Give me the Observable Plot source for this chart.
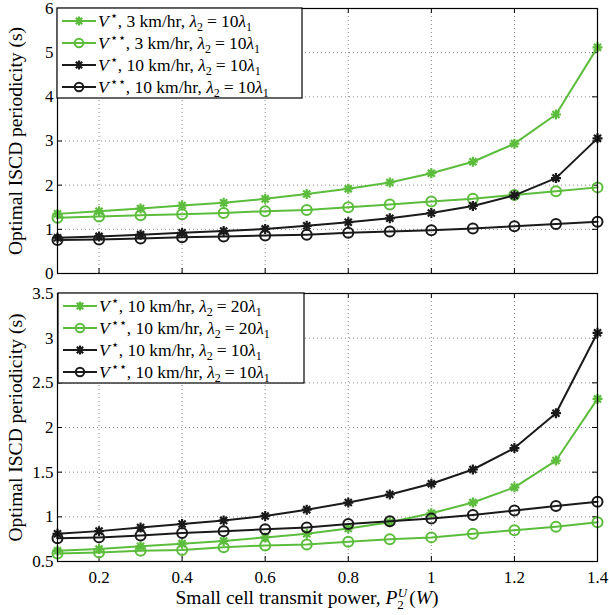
<!DOCTYPE html>
<html>
<head>
<meta charset="utf-8">
<script src="https://cdn.jsdelivr.net/npm/d3@7"></script>
<script src="https://cdn.jsdelivr.net/npm/@observablehq/plot@0.6"></script>
<style>
  html, body { margin: 0; padding: 0; background: #fff; }
  svg { display: block; }
</style>
</head>
<body>
<div id="chart"></div>
<script>
// ---- data ----
const power = [0.1, 0.2, 0.3, 0.4, 0.5, 0.6, 0.7, 0.8, 0.9, 1.0, 1.1, 1.2, 1.3, 1.4];
const vStar3_10 = [1.35, 1.41, 1.47, 1.54, 1.60, 1.69, 1.80, 1.92, 2.06, 2.27, 2.53, 2.94, 3.60, 5.12];
const vStarStar3_10 = [1.26, 1.29, 1.32, 1.34, 1.37, 1.41, 1.44, 1.50, 1.56, 1.63, 1.69, 1.78, 1.86, 1.95];
const vStar10_10 = [0.81, 0.84, 0.88, 0.92, 0.96, 1.01, 1.08, 1.16, 1.25, 1.37, 1.53, 1.77, 2.16, 3.06];
const vStarStar10_10 = [0.76, 0.77, 0.79, 0.82, 0.84, 0.86, 0.88, 0.92, 0.95, 0.98, 1.02, 1.07, 1.12, 1.17];
const vStar10_20 = [0.62, 0.64, 0.67, 0.70, 0.73, 0.77, 0.81, 0.87, 0.94, 1.04, 1.16, 1.33, 1.63, 2.32];
const vStarStar10_20 = [0.59, 0.60, 0.62, 0.63, 0.66, 0.68, 0.69, 0.72, 0.75, 0.77, 0.81, 0.85, 0.89, 0.94];

const xTicks = [0.2, 0.4, 0.6, 0.8, 1, 1.2, 1.4];
const yTicksTop = [0, 1, 2, 3, 4, 5, 6];
const yTicksBottom = [0.5, 1, 1.5, 2, 2.5, 3, 3.5];
const yLabel = "Optimal ISCD periodicity (s)";

const topLegend = [
  {sup: "\u22C6", speed: "3", lam: "10", color: "green", sym: "asterisk"},
  {sup: "\u22C6\u22C6", speed: "3", lam: "10", color: "green", sym: "circle"},
  {sup: "\u22C6", speed: "10", lam: "10", color: "black", sym: "asterisk"},
  {sup: "\u22C6\u22C6", speed: "10", lam: "10", color: "black", sym: "circle"}
];
const bottomLegend = [
  {sup: "\u22C6", speed: "10", lam: "20", color: "green", sym: "asterisk"},
  {sup: "\u22C6\u22C6", speed: "10", lam: "20", color: "green", sym: "circle"},
  {sup: "\u22C6", speed: "10", lam: "10", color: "black", sym: "asterisk"},
  {sup: "\u22C6\u22C6", speed: "10", lam: "10", color: "black", sym: "circle"}
];

const COLORS = {green: "#5cbd3d", black: "#1a1a1a"};
const FONT = "'Liberation Serif', 'Times New Roman', 'DejaVu Serif', serif";
const W = 609;

// MATLAB-style 8-armed asterisk marker
const star8 = {
  draw(ctx, size) {
    const r = Math.sqrt(size / Math.PI);
    const d = r * Math.SQRT1_2;
    ctx.moveTo(-r, 0); ctx.lineTo(r, 0);
    ctx.moveTo(0, -r); ctx.lineTo(0, r);
    ctx.moveTo(-d, -d); ctx.lineTo(d, d);
    ctx.moveTo(-d, d); ctx.lineTo(d, -d);
  }
};

function toRows(vals) { return power.map((p, i) => ({x: p, y: vals[i]})); }

function seriesMarks(vals, color, sym) {
  const rows = toRows(vals);
  const c = COLORS[color];
  return [
    Plot.line(rows, {x: "x", y: "y", stroke: c, strokeWidth: 2}),
    Plot.dot(rows, {x: "x", y: "y", stroke: c, fill: "none", symbol: sym === "circle" ? "circle" : star8, r: 5, strokeWidth: sym === "circle" ? 2 : 2.2})
  ];
}

function panel({height, marginTop, marginBottom, yDomain, yTicks, series, showX}) {
  const innerW = W - 57 - 12;
  const innerH = height - marginTop - marginBottom;
  const marks = [
    Plot.gridX(xTicks.slice(0, -1), {stroke: "#888", strokeOpacity: 1, strokeDasharray: "1,3"}),
    Plot.gridY(yTicks.slice(1, -1), {stroke: "#888", strokeOpacity: 1, strokeDasharray: "1,3"}),
    Plot.tickY(yTicks, {y: d => d, stroke: "#000", insetRight: innerW - 5}),
    Plot.tickY(yTicks, {y: d => d, stroke: "#000", insetLeft: innerW - 5}),
    Plot.tickX(xTicks, {x: d => d, stroke: "#000", insetTop: innerH - 5}),
    Plot.tickX(xTicks, {x: d => d, stroke: "#000", insetBottom: innerH - 5}),
    Plot.axisY(yTicks, {tickSize: 0, tickPadding: 4, fontSize: 17, label: null, tickFormat: d => String(d)}),
    showX
      ? Plot.axisX(xTicks, {tickSize: 0, tickPadding: 9, fontSize: 17, label: null, tickFormat: d => String(d)})
      : Plot.axisX(xTicks, {tickSize: 0, tickFormat: () => "", label: null}),
    ...series.flatMap(s => seriesMarks(s.vals, s.color, s.sym)),
    Plot.frame({stroke: "#000", strokeWidth: 1.2}),
    Plot.text([yLabel], {text: d => d, frameAnchor: "left", textAnchor: "middle", dx: -42, rotate: -90, fontSize: 19.5, fill: "#000"})
  ];
  return Plot.plot({
    width: W,
    height,
    marginTop,
    marginBottom,
    marginLeft: 57,
    marginRight: 12,
    style: {fontFamily: FONT, color: "#000", background: "#fff", overflow: "visible"},
    x: {domain: [0.1, 1.4]},
    y: {domain: yDomain},
    marks
  });
}

function drawLegend(svg, entries, x0, y0, w, h) {
  const g = d3.select(svg).append("g").attr("font-family", FONT).attr("font-size", 17.5).attr("text-anchor", "start");
  g.append("rect").attr("x", x0).attr("y", y0).attr("width", w).attr("height", h)
    .attr("fill", "#fff").attr("stroke", "#000").attr("stroke-width", 1.2);
  entries.forEach((e, i) => {
    const cy = y0 + 13 + i * 22;
    const c = COLORS[e.color];
    g.append("line").attr("x1", x0 + 5).attr("x2", x0 + 39).attr("y1", cy).attr("y2", cy)
      .attr("stroke", c).attr("stroke-width", 2);
    const path = d3.path();
    if (e.sym === "circle") path.arc(0, 0, 4.2, 0, 2 * Math.PI);
    else star8.draw(path, Math.PI * 4.5 * 4.5);
    g.append("path").attr("d", path.toString()).attr("transform", `translate(${x0 + 22},${cy})`)
      .attr("fill", "none").attr("stroke", c).attr("stroke-width", e.sym === "circle" ? 2 : 2.2);
    const t = g.append("text").attr("x", x0 + 41).attr("y", cy + 5.5).attr("fill", "#000").attr("text-anchor", "start");
    t.append("tspan").attr("font-style", "italic").text("V");
    t.append("tspan").attr("font-size", 13).attr("dy", -7).attr("dx", 1).text(e.sup);
    t.append("tspan").attr("dy", 7).text(`, ${e.speed} km/hr, `);
    t.append("tspan").attr("font-style", "italic").text("\u03BB");
    t.append("tspan").attr("font-size", 12).attr("dy", 4).text("2");
    t.append("tspan").attr("dy", -4).attr("dx", 4).text("=");
    t.append("tspan").attr("dx", 4).text(e.lam);
    t.append("tspan").attr("font-style", "italic").text("\u03BB");
    t.append("tspan").attr("font-size", 12).attr("dy", 4).text("1");
  });
}

const topPlot = panel({
  height: 281, marginTop: 8, marginBottom: 8,
  yDomain: [0, 6], yTicks: yTicksTop, showX: false,
  series: [
    {vals: vStar3_10, color: "green", sym: "asterisk"},
    {vals: vStarStar3_10, color: "green", sym: "circle"},
    {vals: vStar10_10, color: "black", sym: "asterisk"},
    {vals: vStarStar10_10, color: "black", sym: "circle"}
  ]
});
drawLegend(topPlot, topLegend, 57, 8, 245, 90);

const bottomPlot = panel({
  height: 334, marginTop: 12, marginBottom: 54,
  yDomain: [0.5, 3.5], yTicks: yTicksBottom, showX: true,
  series: [
    {vals: vStar10_20, color: "green", sym: "asterisk"},
    {vals: vStarStar10_20, color: "green", sym: "circle"},
    {vals: vStar10_10, color: "black", sym: "asterisk"},
    {vals: vStarStar10_10, color: "black", sym: "circle"}
  ]
});
drawLegend(bottomPlot, bottomLegend, 58, 12, 246, 90);

{
  const t = d3.select(bottomPlot).append("text")
    .attr("x", 307).attr("y", 323).attr("text-anchor", "middle")
    .attr("font-family", FONT).attr("font-size", 19.5).attr("fill", "#000");
  t.append("tspan").text("Small cell transmit power, ");
  t.append("tspan").attr("font-style", "italic").text("P");
  t.append("tspan").attr("font-size", 13).attr("dy", 5).text("2");
  t.append("tspan").attr("font-size", 13).attr("font-style", "italic").attr("dy", -12).attr("dx", -6).text("U");
  t.append("tspan").attr("dy", 7).attr("dx", 2).text("(");
  t.append("tspan").attr("font-style", "italic").text("W");
  t.append("tspan").text(")");
}

document.getElementById("chart").append(topPlot, bottomPlot);
</script>
</body>
</html>
